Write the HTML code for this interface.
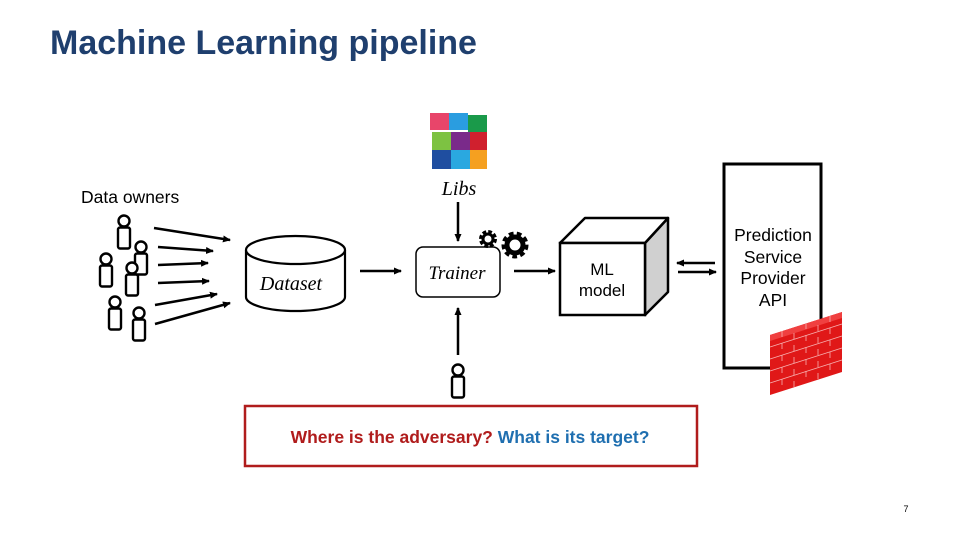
<!DOCTYPE html>
<html><head><meta charset="utf-8"><style>
body{margin:0;width:960px;height:540px;background:#fff;overflow:hidden;font-family:"Liberation Sans",sans-serif}
</style></head><body>
<svg width="960" height="540" viewBox="0 0 960 540" xmlns="http://www.w3.org/2000/svg" font-family="Liberation Sans, sans-serif">
<defs>
<marker id="ah" markerWidth="8" markerHeight="8" refX="7" refY="4" orient="auto" markerUnits="userSpaceOnUse"><path d="M0,0.5 L8,4 L0,7.5 z" fill="#000"/></marker>
<g id="p"><circle cx="0" cy="0" r="5.5" fill="#fff" stroke="#000" stroke-width="2.4"/><rect x="-6" y="6.5" width="12" height="21" rx="2" fill="#fff" stroke="#000" stroke-width="2.4"/></g>
</defs>
<text x="50" y="54" font-size="34" font-weight="bold" fill="#1f3f6e">Machine Learning pipeline</text>
<text x="81" y="203" font-size="17.5">Data owners</text>
<use href="#p" x="124" y="221"/>
<use href="#p" x="141" y="247"/>
<use href="#p" x="106" y="259"/>
<use href="#p" x="132" y="268"/>
<use href="#p" x="115" y="302"/>
<use href="#p" x="139" y="313"/>
<g stroke="#000" stroke-width="2.5" marker-end="url(#ah)">
<line x1="154" y1="228" x2="230" y2="240"/>
<line x1="158" y1="247" x2="213" y2="251"/>
<line x1="158" y1="265" x2="208" y2="263"/>
<line x1="158" y1="283" x2="209" y2="281"/>
<line x1="155" y1="305" x2="217" y2="294"/>
<line x1="155" y1="324" x2="230" y2="303"/>
<line x1="360" y1="271" x2="401" y2="271"/>
<line x1="458" y1="202" x2="458" y2="241"/>
<line x1="458" y1="355" x2="458" y2="308"/>
<line x1="514" y1="271" x2="555" y2="271"/>
<line x1="715" y1="263" x2="677" y2="263"/>
<line x1="678" y1="272" x2="716" y2="272"/>
</g>
<path d="M246,250 V297 A49.5,14 0 0 0 345,297 V250" fill="#fff" stroke="#000" stroke-width="2.2"/>
<ellipse cx="295.5" cy="250" rx="49.5" ry="14" fill="#fff" stroke="#000" stroke-width="2.2"/>
<text x="291" y="290" font-size="20" font-style="italic" font-family="Liberation Serif, serif" text-anchor="middle">Dataset</text>
<rect x="416" y="247" width="84" height="50" rx="7" fill="#fff" stroke="#000" stroke-width="1.5"/>
<text x="457" y="279" font-size="19" font-style="italic" font-family="Liberation Serif, serif" text-anchor="middle">Trainer</text>
<text x="459" y="195" font-size="20" font-style="italic" font-family="Liberation Serif, serif" text-anchor="middle">Libs</text>
<g>
<rect x="430" y="113" width="19" height="17" fill="#e8456a"/>
<rect x="449" y="113" width="19" height="17" fill="#2a9de0"/>
<rect x="468" y="115" width="19" height="17" fill="#1a9a4a"/>
<rect x="432" y="132" width="19" height="18" fill="#7dc242"/>
<rect x="451" y="132" width="19" height="18" fill="#7a2a8a"/>
<rect x="470" y="132" width="17" height="18" fill="#d0202e"/>
<rect x="432" y="150" width="19" height="19" fill="#1f4ea0"/>
<rect x="451" y="150" width="19" height="19" fill="#2aa8e0"/>
<rect x="470" y="150" width="17" height="19" fill="#f5a020"/>
</g>
<circle cx="488" cy="239" r="7" fill="none" stroke="#000" stroke-width="4" stroke-dasharray="3.5 2"/>
<circle cx="488" cy="239" r="5" fill="none" stroke="#000" stroke-width="3"/>
<circle cx="515" cy="245" r="11" fill="none" stroke="#000" stroke-width="5" stroke-dasharray="4.5 3.1"/>
<circle cx="515" cy="245" r="8" fill="none" stroke="#000" stroke-width="5"/>
<use href="#p" x="458" y="370"/>
<polygon points="645,243 668,218 668,292 645,315" fill="#d0d0d0" stroke="#000" stroke-width="2.5" stroke-linejoin="round"/>
<polygon points="560,243 585,218 668,218 645,243" fill="#fff" stroke="#000" stroke-width="2.5" stroke-linejoin="round"/>
<rect x="560" y="243" width="85" height="72" fill="#fff" stroke="#000" stroke-width="2.5"/>
<text x="602" y="275" font-size="17" text-anchor="middle">ML</text>
<text x="602" y="296" font-size="17" text-anchor="middle">model</text>
<rect x="724" y="164" width="97" height="204" fill="#fff" stroke="#000" stroke-width="3"/>
<g font-size="17.5" text-anchor="middle"><text x="773" y="241">Prediction</text><text x="773" y="263">Service</text><text x="773" y="284">Provider</text><text x="773" y="306">API</text></g>
<polygon points="770,335 842,312 842,372 770,395" fill="#e01818"/>
<polygon points="770,335 842,312 842,318 770,341" fill="#f04040"/>
<g stroke="#f7b0b0" stroke-width="0.8" fill="none">
<line x1="770" y1="347" x2="842" y2="324"/><line x1="770" y1="359" x2="842" y2="336"/><line x1="770" y1="371" x2="842" y2="348"/><line x1="770" y1="383" x2="842" y2="360"/>
<line x1="782" y1="331" x2="782" y2="391" stroke-dasharray="6 6"/><line x1="794" y1="327" x2="794" y2="387" stroke-dasharray="6 6" stroke-dashoffset="6"/><line x1="806" y1="323" x2="806" y2="383" stroke-dasharray="6 6"/><line x1="818" y1="319" x2="818" y2="379" stroke-dasharray="6 6" stroke-dashoffset="6"/><line x1="830" y1="316" x2="830" y2="376" stroke-dasharray="6 6"/>
</g>
<rect x="245" y="406" width="452" height="60" fill="#fff" stroke="#b01c1c" stroke-width="2.5"/>
<text x="470" y="443" font-size="17.5" font-weight="bold" text-anchor="middle"><tspan fill="#b01c1c">Where is the adversary? </tspan><tspan fill="#1f6fb0">What is its target?</tspan></text>
<text x="906" y="512" font-size="9" text-anchor="middle">7</text>
</svg>
</body></html>
